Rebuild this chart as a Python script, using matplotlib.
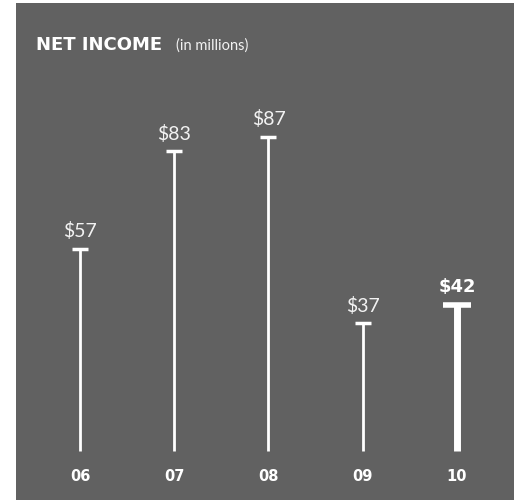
import matplotlib
matplotlib.use("Agg")
import matplotlib.pyplot as plt

years = ["06", "07", "08", "09", "10"]
income = [57, 83, 87, 37, 42]
labels = ["$57", "$83", "$87", "$37", "$42"]
highlight = "10"

PANEL = '#616161'
WHITE = '#ffffff'
SOFT = '#f2f2f2'

fig = plt.figure(figsize=(5.28, 5.04), dpi=100, facecolor='white')
ax = fig.add_axes([16 / 528, 4 / 504, 498 / 528, 497 / 504])
ax.set_facecolor(PANEL)
for spine in ax.spines.values():
    spine.set_visible(False)
ax.set_xticks([])
ax.set_yticks([])
ax.set_xlim(-0.679, 4.605)
ax.set_ylim(-10.2, 122.7)

base = 3
for i, (yr, v, lab) in enumerate(zip(years, income, labels)):
    hot = yr == highlight
    lw = 5 if hot else 2
    cap = 0.15 if hot else 0.085
    ax.vlines(i, base, v, color=WHITE, linewidth=lw)
    ax.hlines(v, i - cap, i + cap, color=WHITE, linewidth=4 if hot else 2.5)
    if hot:
        ax.text(i, v + 2.4, lab, ha='center', va='bottom', color=WHITE,
                fontsize=13, fontweight='bold', family='DejaVu Sans')
    else:
        ax.text(i, v + 2.2, lab, ha='center', va='bottom', color=SOFT,
                fontsize=14, fontweight='normal', family='Lato')
    ax.text(i, -3.8, yr, ha='center', va='center', color=WHITE,
            fontsize=10.5, fontweight='bold', family='DejaVu Sans')

fig.text(36 / 528, 1 - 45 / 504, 'NET INCOME', color=WHITE,
         fontsize=13, fontweight='bold', family='DejaVu Sans',
         ha='left', va='center')
fig.text(176 / 528, 1 - 46 / 504, '(in millions)', color=SOFT,
         fontsize=10.5, fontweight='normal', family='Lato',
         ha='left', va='center')

fig.savefig('out.png', dpi=100, facecolor='white')
